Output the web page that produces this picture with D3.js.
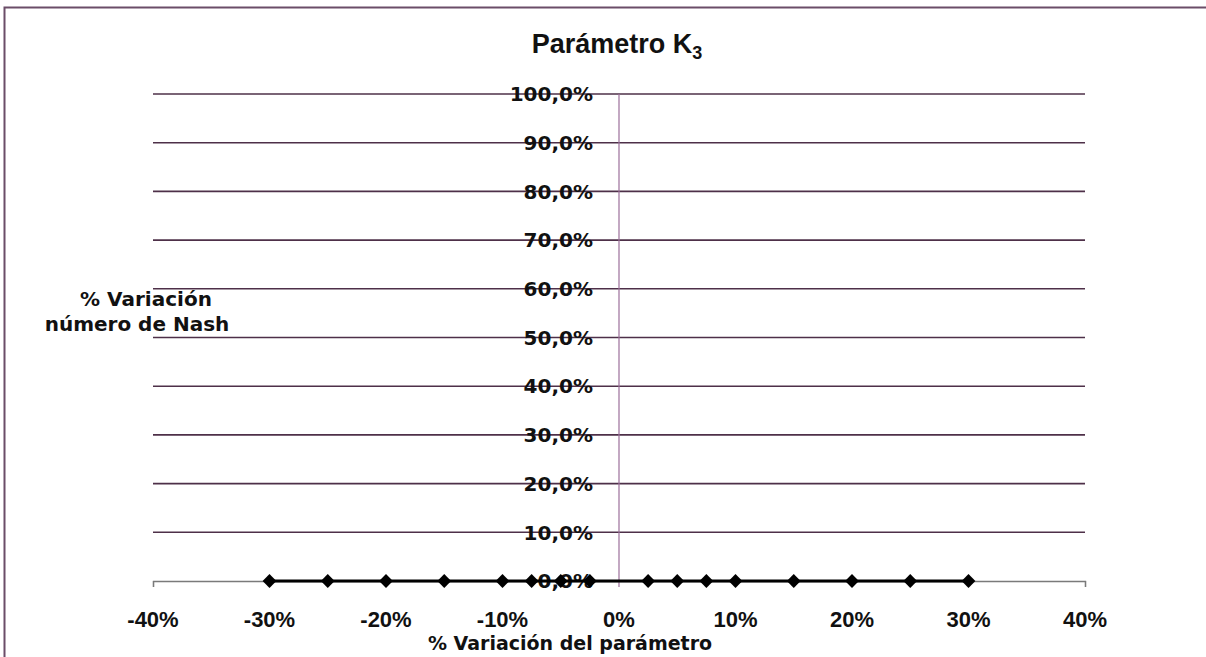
<!DOCTYPE html>
<html>
<head>
<meta charset="utf-8">
<script src="https://cdn.jsdelivr.net/npm/d3@7/dist/d3.min.js"></script>
<style>
  html, body { margin: 0; padding: 0; background: #fff; }
  svg { display: block; }
  text { font-family: "Liberation Sans", Arial, sans-serif; font-weight: bold; fill: #111; }
  .wide { font-family: "DejaVu Sans", Verdana, sans-serif; }
</style>
</head>
<body>
<svg id="chart" width="1206" height="657"></svg>
<script>
// Parameter variation (fraction) and resulting change in the Nash number
const paramVariation = [-0.30, -0.25, -0.20, -0.15, -0.10, -0.075, -0.05, -0.025,
                        0.025, 0.05, 0.075, 0.10, 0.15, 0.20, 0.25, 0.30];
const nashVariation  = [0, 0, 0, 0, 0, 0, 0, 0,
                        0, 0, 0, 0, 0, 0, 0, 0];
const xTicks = [-0.4, -0.3, -0.2, -0.1, 0, 0.1, 0.2, 0.3, 0.4];
const yTicks = [0, 0.1, 0.2, 0.3, 0.4, 0.5, 0.6, 0.7, 0.8, 0.9, 1.0];

const points = paramVariation.map((v, i) => ({ x: v, y: nashVariation[i] }));

const svg = d3.select("#chart");

const x = d3.scaleLinear().domain([-0.4, 0.4]).range([153, 1085]);
const y = d3.scaleLinear().domain([0, 1]).range([581, 94]);

// outer frame (top and left edges visible)
svg.append("path")
  .attr("d", "M4.5,657 L4.5,7.5 L1206,7.5")
  .attr("fill", "none")
  .attr("stroke", "#6b4d68")
  .attr("stroke-width", 2);

// title
const title = svg.append("text")
  .attr("x", 617).attr("y", 53)
  .attr("text-anchor", "middle")
  .style("font-size", "27px");
title.append("tspan").text("Parámetro K");
title.append("tspan").attr("dy", 6).style("font-size", "18px").text("3");

// horizontal gridlines
svg.append("g")
  .selectAll("line")
  .data(yTicks.filter(d => d > 0))
  .join("line")
  .attr("x1", x(-0.4)).attr("x2", x(0.4))
  .attr("y1", d => y(d)).attr("y2", d => y(d))
  .attr("stroke", "#4e3049")
  .attr("stroke-width", 1.6);

// vertical axis through x = 0
svg.append("line")
  .attr("x1", x(0)).attr("x2", x(0))
  .attr("y1", y(1)).attr("y2", y(0) + 6)
  .attr("stroke", "#9c6f9a")
  .attr("stroke-width", 1.2);

// horizontal axis with ticks
const xAxis = d3.axisBottom(x)
  .tickValues([-0.4, 0.4])
  .tickSize(6)
  .tickFormat("");
const gx = svg.append("g")
  .attr("transform", `translate(0,${y(0)})`)
  .call(xAxis);
gx.select(".domain").attr("stroke", "#7a7a7a").attr("stroke-width", 1.3);
gx.selectAll(".tick line").attr("stroke", "#7a7a7a").attr("stroke-width", 1.3);

// x tick labels
svg.append("g")
  .selectAll("text")
  .data(xTicks)
  .join("text")
  .attr("x", d => x(d))
  .attr("y", 627)
  .attr("text-anchor", "middle")
  .style("font-size", "22px")
  .text(d => d3.format(".0%")(d).replace("−", "-"));

// y tick labels, placed left of the vertical axis
const fmtY = d => d3.format(".1%")(d).replace(".", ",");
svg.append("g")
  .selectAll("text")
  .data(yTicks)
  .join("text")
  .attr("class", "wide")
  .attr("x", x(0) - 26)
  .attr("y", d => y(d))
  .attr("dy", "0.36em")
  .attr("text-anchor", "end")
  .style("font-size", "20px")
  .text(fmtY);

// data series
const line = d3.line().x(d => x(d.x)).y(d => y(d.y));
svg.append("path")
  .datum(points)
  .attr("d", line)
  .attr("fill", "none")
  .attr("stroke", "#000")
  .attr("stroke-width", 3);

svg.append("g")
  .selectAll("path")
  .data(points)
  .join("path")
  .attr("d", d3.symbol(d3.symbolSquare, 95)())
  .attr("transform", d => `translate(${x(d.x)},${y(d.y)}) rotate(45)`)
  .attr("fill", "#000");

// axis titles
svg.append("text")
  .attr("class", "wide")
  .attr("x", 570).attr("y", 650)
  .attr("text-anchor", "middle")
  .style("font-size", "19px")
  .text("% Variación del parámetro");

const yTitle = svg.append("text")
  .attr("class", "wide")
  .attr("text-anchor", "middle")
  .style("font-size", "20px");
yTitle.append("tspan").attr("x", 146).attr("y", 306).text("% Variación");
yTitle.append("tspan").attr("x", 137).attr("y", 331).text("número de Nash");
</script>
</body>
</html>
